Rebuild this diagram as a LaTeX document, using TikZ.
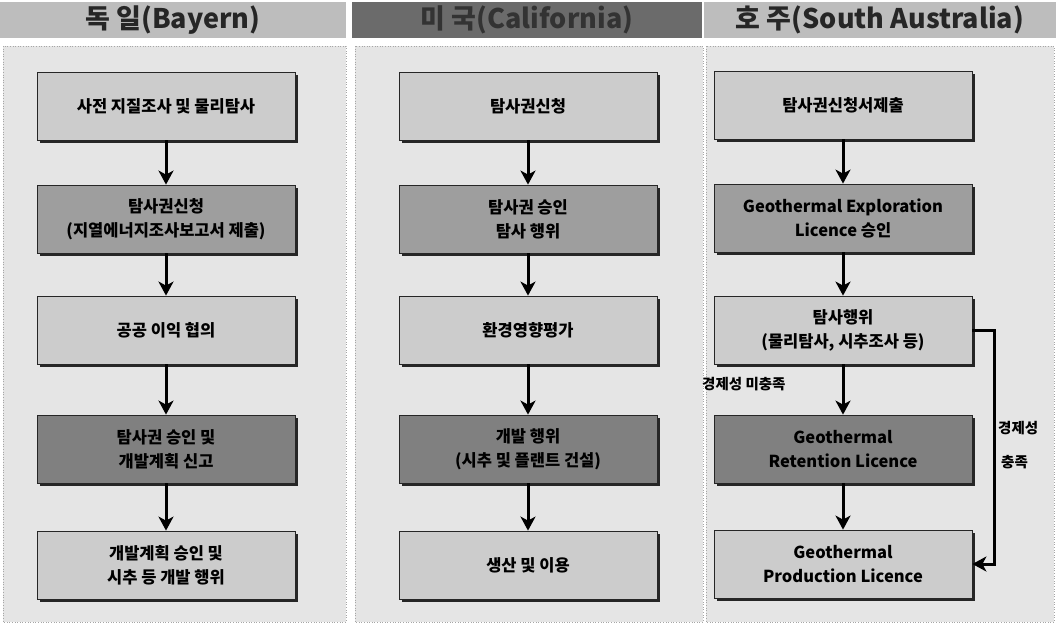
\documentclass[tikz,border=0pt]{standalone}
\usepackage{fontspec}
\newfontfamily\kr{Noto Sans CJK KR}
\usetikzlibrary{arrows.meta,shadows}
\definecolor{lt}{gray}{0.80}
\definecolor{md}{gray}{0.62}
\definecolor{dk}{gray}{0.50}
\definecolor{panel}{gray}{0.90}
\definecolor{hlt}{gray}{0.74}
\definecolor{hdk}{gray}{0.42}
\begin{document}
\begin{tikzpicture}[x=1pt,y=-1pt,
  box/.style={draw=black!85, line width=0.8pt, minimum width=258pt, minimum height=68pt,
    align=center, inner sep=2pt, font=\kr\bfseries\fontsize{16.5}{24}\selectfont,
    drop shadow={shadow xshift=3pt, shadow yshift=-3pt, fill=black!85, opacity=1}},
  light/.style={box, fill=lt},
  mid/.style={box, fill=md},
  dark/.style={box, fill=dk},
  arr/.style={-{Stealth[length=14pt,width=15pt,inset=4pt]}, line width=3pt},
  hdr/.style={minimum height=36pt, inner sep=0pt, font=\kr\bfseries\fontsize{27}{30}\selectfont},
  lbl/.style={inner sep=1pt, font=\kr\bfseries\fontsize{14.5}{16}\selectfont},
  pan/.style={fill=panel, draw=gray!70, dotted, line width=0.6pt}
]
\useasboundingbox (0,0) rectangle (1056,624);
\fill[white] (0,0) rectangle (1056,624);
% panels
\draw[pan] (3,46) rectangle (346,622);
\draw[pan] (355,46) rectangle (703,622);
\draw[pan] (706,46) rectangle (1054,622);
% headers
\node[hdr, fill=hlt, minimum width=346pt, text=black!85] (h1) at (173,20) {독 일(Bayern)};
\node[hdr, fill=hdk, minimum width=350pt, text=black!80] (h2) at (527,20) {미 국(California)};
\node[hdr, fill=hlt, minimum width=352pt, text=black!85] (h3) at (880,20) {호 주(South Australia)};
% column 1
\node[light] (g1) at (166,106) {사전 지질조사 및 물리탐사};
\node[mid]   (g2) at (166,219) {탐사권신청\\(지열에너지조사보고서 제출)};
\node[light] (g3) at (166,330) {공공 이익 협의};
\node[dark]  (g4) at (166,449) {탐사권 승인 및\\개발계획 신고};
\node[light] (g5) at (166,565) {개발계획 승인 및\\시추 등 개발 행위};
% column 2
\node[light] (c1) at (528,106) {탐사권신청};
\node[mid]   (c2) at (528,219) {탐사권 승인\\탐사 행위};
\node[light] (c3) at (528,330) {환경영향평가};
\node[dark]  (c4) at (528,449) {개발 행위\\(시추 및 플랜트 건설)};
\node[light] (c5) at (528,565) {생산 및 이용};
% column 3
\node[light] (a1) at (843,105) {탐사권신청서제출};
\node[mid]   (a2) at (843,218) {Geothermal Exploration\\Licence 승인};
\node[light] (a3) at (843,330) {탐사행위\\(물리탐사, 시추조사 등)};
\node[dark]  (a4) at (843,449) {Geothermal\\Retention Licence};
\node[light] (a5) at (843,564) {Geothermal\\Production Licence};
% arrows
\foreach \p in {g,c,a}{
  \draw[arr] (\p1) -- (\p2);
  \draw[arr] (\p2) -- (\p3);
  \draw[arr] (\p3) -- (\p4);
  \draw[arr] (\p4) -- (\p5);
}
\draw[arr] (a3.east) -- ++(22,0) |- (a5.east);
% labels
\node[lbl, anchor=west] (l1) at (701,384) {경제성 미충족};
\node[lbl, anchor=west] (l2) at (997,428) {경제성};
\node[lbl, anchor=west] (l3) at (1000,462) {충족};
\end{tikzpicture}
\end{document}
